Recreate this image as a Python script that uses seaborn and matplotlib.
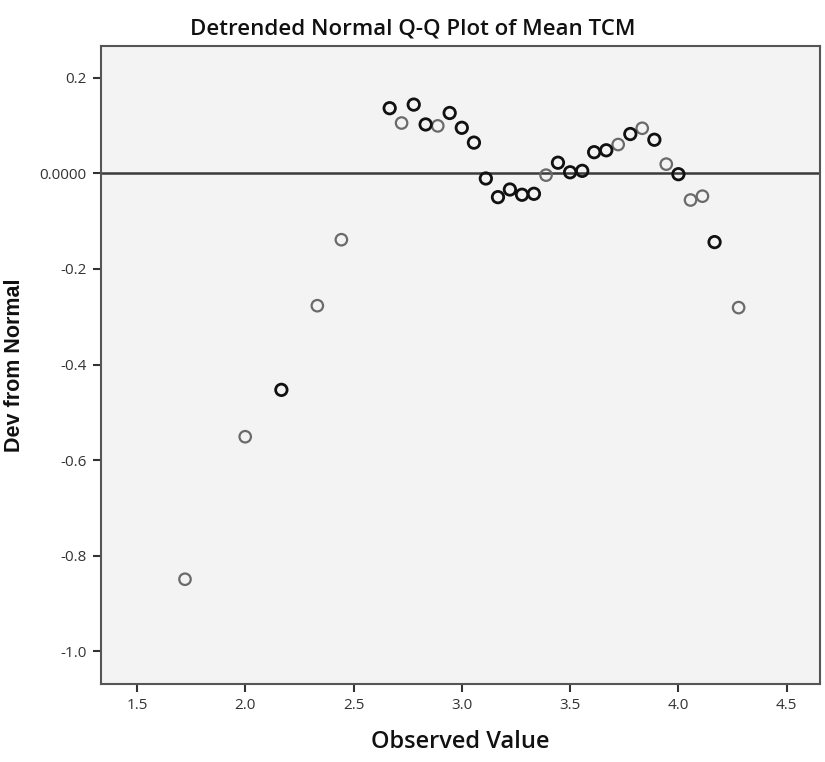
import matplotlib
matplotlib.use("Agg")
import matplotlib.pyplot as plt
import seaborn as sns
import numpy as np
import pandas as pd

# valori
observed = [1.722, 2.000, 2.167, 2.333, 2.444,
            2.667, 2.722, 2.778, 2.833, 2.889, 2.944, 3.000, 3.056,
            3.111, 3.167, 3.222, 3.278, 3.333, 3.389, 3.444, 3.500,
            3.556, 3.611, 3.667, 3.722, 3.778, 3.833, 3.889, 3.944,
            4.000, 4.056, 4.111, 4.167, 4.278]
dev = [-0.849, -0.551, -0.453, -0.277, -0.139,
       0.136, 0.105, 0.1435, 0.102, 0.099, 0.126, 0.095, 0.064,
       -0.011, -0.050, -0.034, -0.045, -0.043, -0.004, 0.022, 0.002,
       0.005, 0.044, 0.048, 0.060, 0.082, 0.094, 0.070, 0.019,
       -0.002, -0.056, -0.048, -0.144, -0.281]
# punti scuri (sovrapposti) vs grigi
dark = [0, 0, 1, 0, 0,
        1, 0, 1, 1, 0, 1, 1, 1,
        1, 1, 1, 1, 1, 0, 1, 1,
        1, 1, 1, 0, 1, 0, 1, 0,
        1, 0, 0, 1, 0]

x_ticks = [1.5, 2.0, 2.5, 3.0, 3.5, 4.0, 4.5]
y_ticks = [0.2, 0.0, -0.2, -0.4, -0.6, -0.8, -1.0]
y_labels = ["0.2", "0.0000", "-0.2", "-0.4", "-0.6", "-0.8", "-1.0"]

df = pd.DataFrame({"observed": observed, "dev": dev, "dark": dark})

sns.set_theme(style="ticks")
plt.rcParams['font.family'] = ['Open Sans', 'DejaVu Sans']

fig = plt.figure(figsize=(8.25, 7.62), dpi=100)
fig.patch.set_facecolor("white")
ax = fig.add_axes([0.122, 0.1024, 0.872, 0.8372])
ax.set_facecolor("#f3f3f3")

ax.axhline(0, color="#3a3a3a", linewidth=1.8, zorder=1)

sns.scatterplot(data=df[df.dark == 0], x="observed", y="dev", ax=ax,
                marker="o", s=68, facecolor="none", edgecolor="#6a6a6a",
                linewidth=1.6, zorder=3)
sns.scatterplot(data=df[df.dark == 1], x="observed", y="dev", ax=ax,
                marker="o", s=68, facecolor="none", edgecolor="#111111",
                linewidth=2.0, zorder=3)

ax.set_xlim(1.3326, 4.654)
ax.set_ylim(-1.068, 0.266)
ax.set_xticks(x_ticks)
ax.set_xticklabels([f"{t:.1f}" for t in x_ticks])
ax.set_yticks(y_ticks)
ax.set_yticklabels(y_labels)

for s in ax.spines.values():
    s.set_color("#555555")
    s.set_linewidth(1.5)
ax.tick_params(axis="both", direction="out", length=6, width=1.5,
               color="#333333", labelsize=11, labelcolor="#333333", pad=4)

# titolo centrato sulla figura come nel riferimento
fig.text(0.5, 0.962, "Detrended Normal Q-Q Plot of Mean TCM", fontsize=16,
         fontweight="semibold", color="#111111", ha="center", va="center")
ax.set_xlabel("Observed Value", fontsize=17, fontweight="semibold",
              color="#111111", labelpad=12)
ax.set_ylabel("Dev from Normal", fontsize=15.5, fontweight="bold",
              family=["Liberation Sans", "DejaVu Sans"], color="#111111")
ax.yaxis.set_label_coords(-0.105, 0.5)

plt.savefig("out.png", dpi=100)
